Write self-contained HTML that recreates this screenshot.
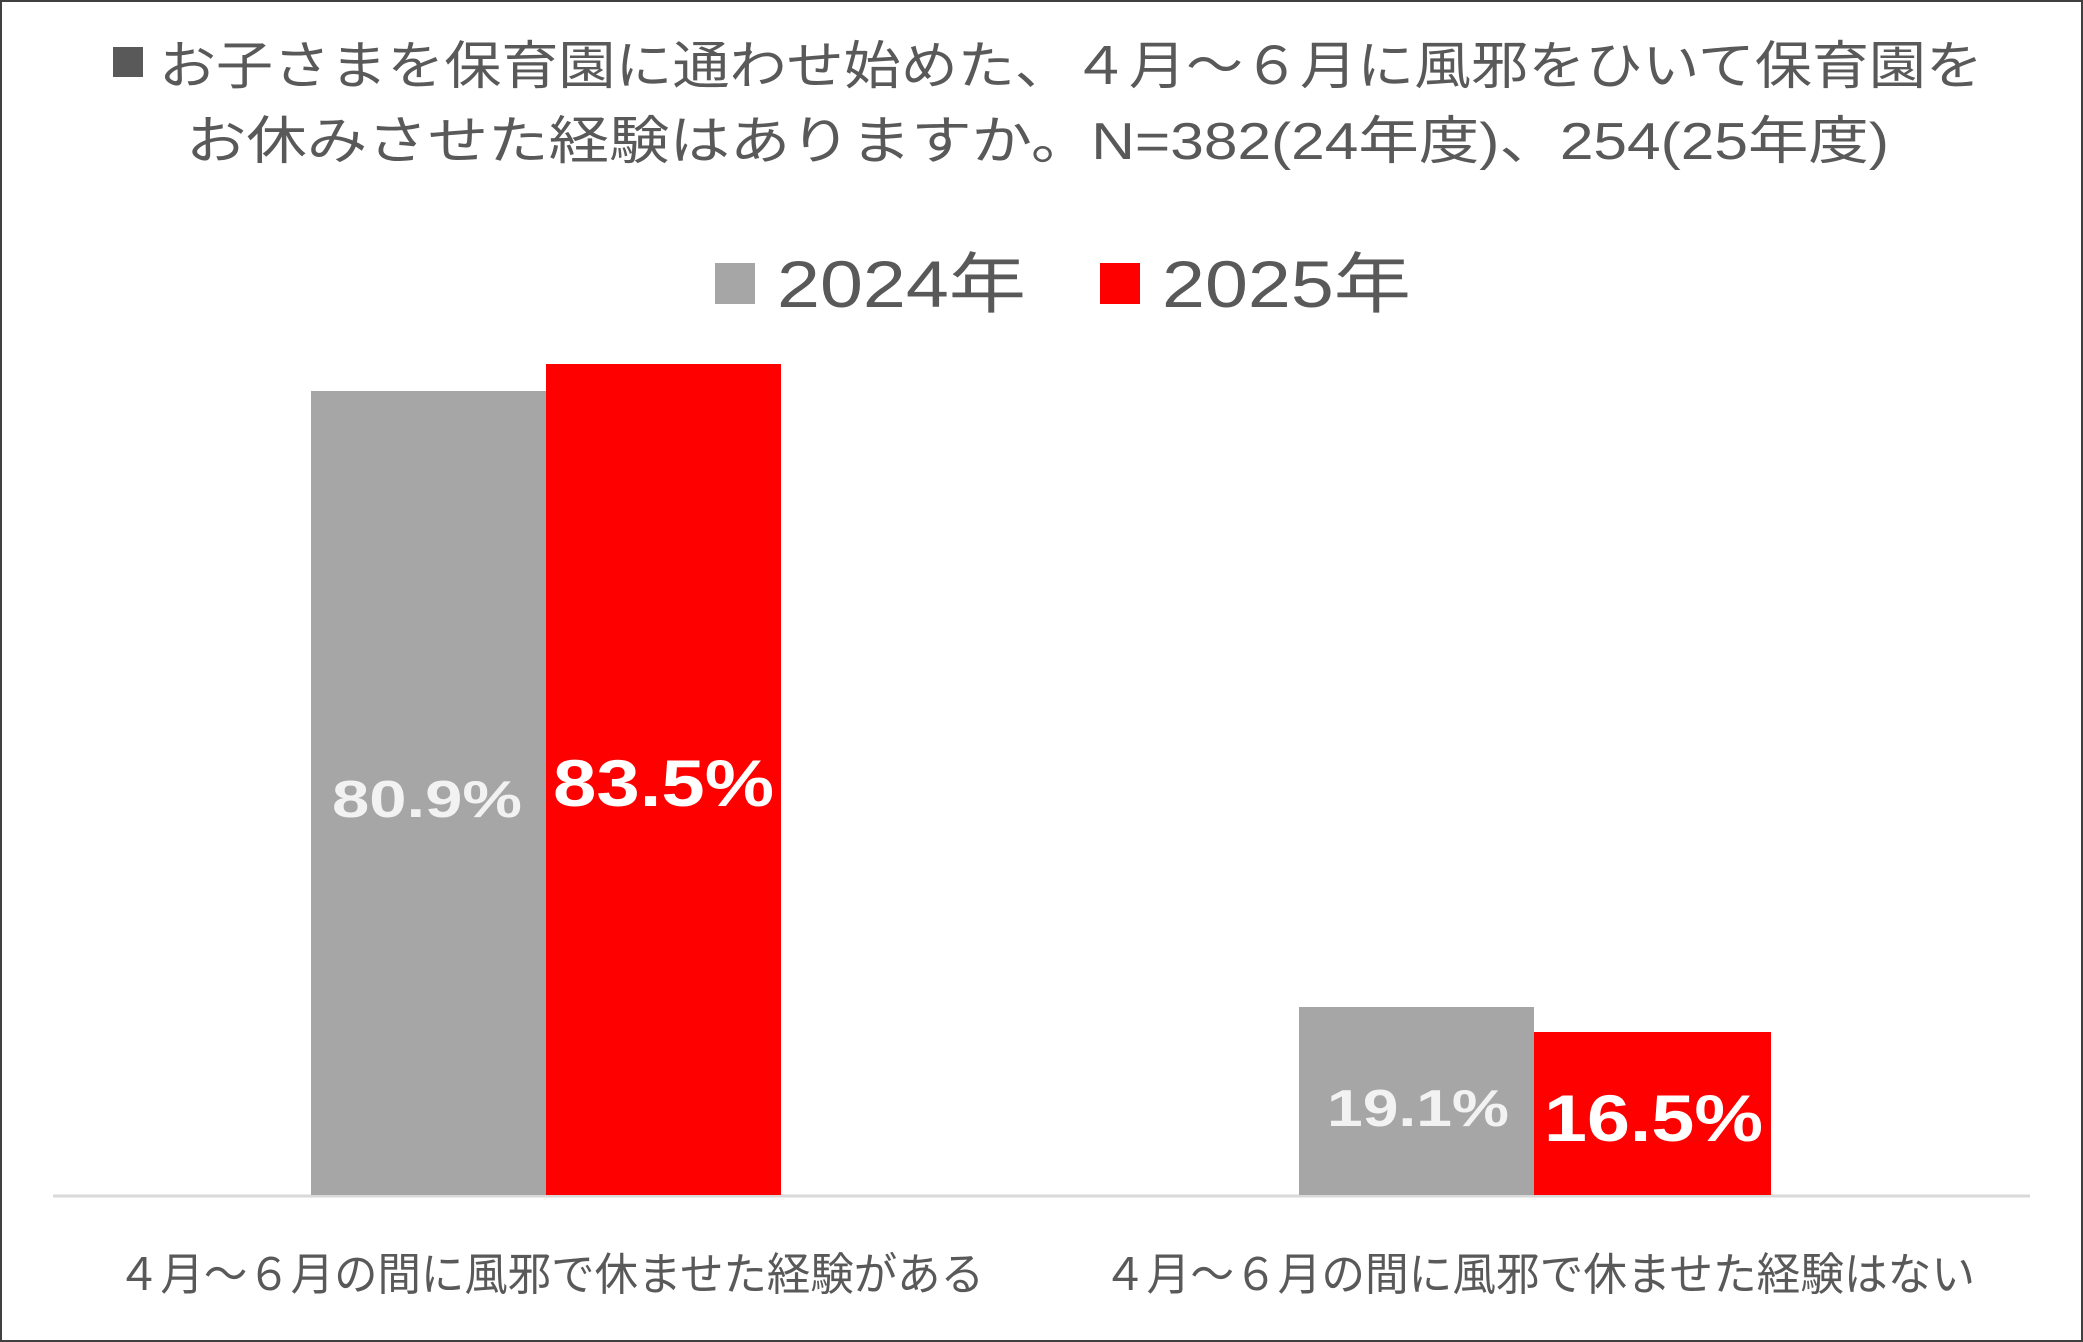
<!DOCTYPE html>
<html><head><meta charset="utf-8"><style>
html,body{margin:0;padding:0;background:#fff}
svg{display:block}
text{font-family:"Liberation Sans","Noto Sans CJK JP",sans-serif}
</style></head><body>
<svg width="2083" height="1342" viewBox="0 0 2083 1342" xmlns="http://www.w3.org/2000/svg">
<rect x="1" y="1" width="2081" height="1340" fill="#fff" stroke="#404040" stroke-width="2"/>
<rect x="113" y="47" width="30" height="30" fill="#595959"/>
<g fill="#595959">
<text x="159" y="84" font-size="52" textLength="1824" lengthAdjust="spacingAndGlyphs">お子さまを保育園に通わせ始めた、４月～６月に風邪をひいて保育園を</text>
<text x="186" y="159" font-size="52" textLength="1703" lengthAdjust="spacingAndGlyphs">お休みさせた経験はありますか。N=382(24年度)、254(25年度)</text>
</g>
<rect x="715" y="263" width="40" height="41" fill="#a6a6a6"/>
<text x="777" y="307" font-size="66" fill="#595959" textLength="249" lengthAdjust="spacingAndGlyphs">2024年</text>
<rect x="1100" y="263" width="40" height="41" fill="#ff0000"/>
<text x="1162" y="307" font-size="66" fill="#595959" textLength="249" lengthAdjust="spacingAndGlyphs">2025年</text>
<line x1="53" y1="1196" x2="2030" y2="1196" stroke="#d9d9d9" stroke-width="3"/>
<rect x="311" y="391" width="235" height="804" fill="#a6a6a6"/>
<rect x="546" y="364" width="235" height="831" fill="#ff0000"/>
<rect x="1299" y="1007" width="235" height="188" fill="#a6a6a6"/>
<rect x="1534" y="1032" width="237" height="163" fill="#ff0000"/>
<g font-weight="bold">
<text x="332" y="817" font-size="52" fill="#f2f2f2" textLength="190" lengthAdjust="spacingAndGlyphs">80.9%</text>
<text x="553" y="806" font-size="66" fill="#fff" textLength="221" lengthAdjust="spacingAndGlyphs">83.5%</text>
<text x="1327" y="1126" font-size="52" fill="#f2f2f2" textLength="182" lengthAdjust="spacingAndGlyphs">19.1%</text>
<text x="1544" y="1141" font-size="66" fill="#fff" textLength="219" lengthAdjust="spacingAndGlyphs">16.5%</text>
</g>
<g fill="#595959" font-size="45">
<text x="117" y="1290" textLength="867" lengthAdjust="spacingAndGlyphs">４月～６月の間に風邪で休ませた経験がある</text>
<text x="1103" y="1290" textLength="872" lengthAdjust="spacingAndGlyphs">４月～６月の間に風邪で休ませた経験はない</text>
</g>
</svg>
</body></html>
